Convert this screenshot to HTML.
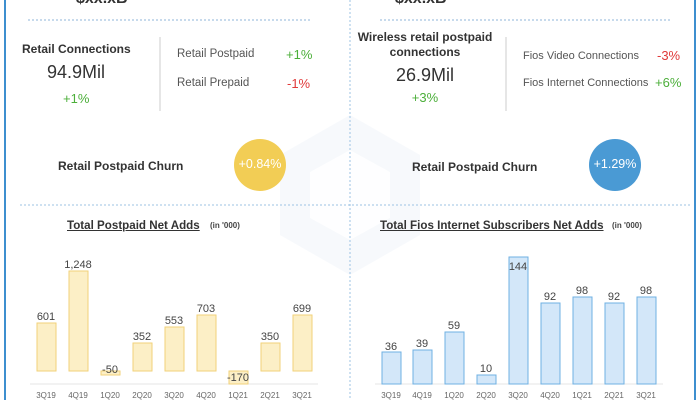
<!DOCTYPE html>
<html><head><style>
body{margin:0;width:700px;height:400px;overflow:hidden;background:#fff;font-family:"Liberation Sans",sans-serif;position:relative;color:#333}
.a{position:absolute;white-space:nowrap}
.b{font-weight:bold}
.g{color:#4caf3a}.r{color:#e03a3a}
</style></head><body>
<svg class="a" style="left:0;top:0" width="700" height="400">
<polygon points="350,115 420,155 420,235 350,275 280,235 280,155" fill="#f3f7fb" opacity="0.7"/>
<polygon points="350,150 390,172 390,218 350,240 310,218 310,172" fill="#fff" opacity="0.8"/>
<line x1="5" y1="0" x2="5" y2="400" stroke="#3d8fcf" stroke-width="2"/>
<line x1="695" y1="0" x2="695" y2="400" stroke="#3d8fcf" stroke-width="2"/>
<line x1="350" y1="0" x2="350" y2="400" stroke="#9cc3e3" stroke-dasharray="2,2"/>
<line x1="28" y1="20" x2="310" y2="20" stroke="#8fb5d8" stroke-dasharray="2,2"/>
<line x1="380" y1="20" x2="670" y2="20" stroke="#8fb5d8" stroke-dasharray="2,2"/>
<line x1="20" y1="205" x2="690" y2="205" stroke="#9cc3e3" stroke-dasharray="2,2"/>
<line x1="160" y1="37" x2="160" y2="111" stroke="#ccc"/>
<line x1="506" y1="37" x2="506" y2="111" stroke="#ccc"/>
<circle cx="260" cy="165" r="26" fill="#f2cd55"/>
<circle cx="615" cy="165" r="26" fill="#4a9ad4"/>
<line x1="30" y1="384" x2="318" y2="384" stroke="#e4e4e4"/>
<line x1="375" y1="384" x2="663" y2="384" stroke="#e4e4e4"/>
<g fill="#fcefc6" stroke="#f2d27a" stroke-width="1">
<rect x="37" y="323" width="19" height="48"/>
<rect x="69" y="271" width="19" height="100"/>
<rect x="101" y="371" width="19" height="4"/>
<rect x="133" y="343" width="19" height="28"/>
<rect x="165" y="327" width="19" height="44"/>
<rect x="197" y="315" width="19" height="56"/>
<rect x="229" y="371" width="19" height="13"/>
<rect x="261" y="343" width="19" height="28"/>
<rect x="293" y="315" width="19" height="56"/>
</g>
<g fill="#d3e7f9" stroke="#6fb0e3" stroke-width="1">
<rect x="382" y="352" width="19" height="32"/>
<rect x="413" y="350" width="19" height="34"/>
<rect x="445" y="332" width="19" height="52"/>
<rect x="477" y="375" width="19" height="9"/>
<rect x="509" y="257" width="19" height="127"/>
<rect x="541" y="303" width="19" height="81"/>
<rect x="573" y="297" width="19" height="87"/>
<rect x="605" y="303" width="19" height="81"/>
<rect x="637" y="297" width="19" height="87"/>
</g>
<g font-family="Liberation Sans" font-size="11" fill="#444" text-anchor="middle">
<text x="46" y="320">601</text><text x="78" y="268">1,248</text><text x="110" y="373">-50</text>
<text x="142" y="340">352</text><text x="174" y="324">553</text><text x="206" y="312">703</text>
<text x="238" y="381">-170</text><text x="270" y="340">350</text><text x="302" y="312">699</text>
<text x="391" y="350">36</text><text x="422" y="347">39</text><text x="454" y="329">59</text>
<text x="486" y="372">10</text><text x="518" y="270">144</text><text x="550" y="300">92</text>
<text x="582" y="294">98</text><text x="614" y="300">92</text><text x="646" y="294">98</text>
</g>
<g font-family="Liberation Sans" font-size="8" fill="#666" text-anchor="middle">
<text x="46" y="398">3Q19</text><text x="78" y="398">4Q19</text><text x="110" y="398">1Q20</text><text x="142" y="398">2Q20</text><text x="174" y="398">3Q20</text><text x="206" y="398">4Q20</text><text x="238" y="398">1Q21</text><text x="270" y="398">2Q21</text><text x="302" y="398">3Q21</text>
<text x="391" y="398">3Q19</text><text x="422" y="398">4Q19</text><text x="454" y="398">1Q20</text><text x="486" y="398">2Q20</text><text x="518" y="398">3Q20</text><text x="550" y="398">4Q20</text><text x="582" y="398">1Q21</text><text x="614" y="398">2Q21</text><text x="646" y="398">3Q21</text>
</g>
</svg>
<div class="a b" style="left:76px;top:-10px;font-size:16px;color:#333">$xx.xB</div>
<div class="a b" style="left:395px;top:-10px;font-size:16px;color:#333">$xx.xB</div>

<div class="a b" style="left:22px;top:42px;font-size:12px">Retail Connections</div>
<div class="a" style="left:47px;top:62px;font-size:18px">94.9Mil</div>
<div class="a g" style="left:63px;top:91px;font-size:13px">+1%</div>
<div class="a" style="left:177px;top:48px;font-size:11.5px;color:#555">Retail Postpaid</div>
<div class="a g" style="left:286px;top:47px;font-size:13px">+1%</div>
<div class="a" style="left:177px;top:77px;font-size:11.5px;color:#555">Retail Prepaid</div>
<div class="a r" style="left:287px;top:76px;font-size:13px">-1%</div>
<div class="a b" style="left:58px;top:159px;font-size:12px">Retail Postpaid Churn</div>
<div class="a" style="left:234px;top:157px;width:52px;text-align:center;font-size:12.5px;color:#fff">+0.84%</div>

<div class="a b" style="left:352px;top:30px;width:146px;text-align:center;font-size:12px;line-height:15px;white-space:normal">Wireless retail postpaid connections</div>
<div class="a" style="left:358px;top:65px;width:134px;text-align:center;font-size:18px">26.9Mil</div>
<div class="a g" style="left:358px;top:90px;width:134px;text-align:center;font-size:13px">+3%</div>
<div class="a" style="left:523px;top:50px;font-size:11px;color:#555">Fios Video Connections</div>
<div class="a r" style="left:657px;top:48px;font-size:13px">-3%</div>
<div class="a" style="left:523px;top:77px;font-size:11px;color:#555">Fios Internet Connections</div>
<div class="a g" style="left:655px;top:75px;font-size:13px">+6%</div>
<div class="a b" style="left:412px;top:160px;font-size:12px">Retail Postpaid Churn</div>
<div class="a" style="left:589px;top:157px;width:52px;text-align:center;font-size:12.5px;color:#fff">+1.29%</div>

<div class="a b" style="left:67px;top:219px;font-size:11.6px;text-decoration:underline">Total Postpaid Net Adds</div>
<div class="a b" style="left:210px;top:221px;font-size:8px;color:#444">(in '000)</div>
<div class="a b" style="left:380px;top:219px;font-size:11.6px;text-decoration:underline">Total Fios Internet Subscribers Net Adds</div>
<div class="a b" style="left:612px;top:221px;font-size:8px;color:#444">(in '000)</div>
</body></html>
